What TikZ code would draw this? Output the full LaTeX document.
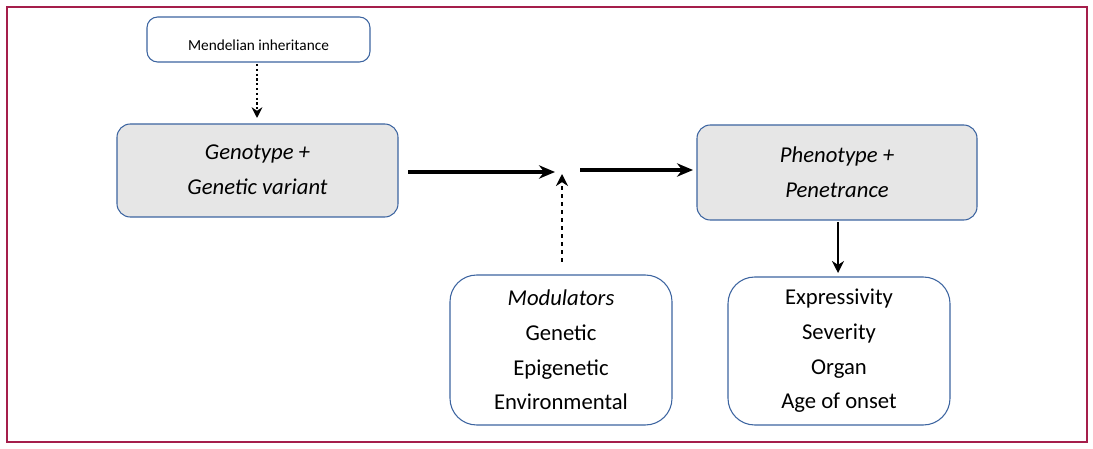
\documentclass[tikz,border=0pt]{standalone}
\usepackage{fontspec}
\setmainfont{Carlito}
\usetikzlibrary{arrows.meta, positioning}
\definecolor{frameRed}{RGB}{165,30,75}
\definecolor{boxBlue}{RGB}{60,100,160}
\definecolor{boxGray}{RGB}{230,230,230}
\tikzset{
  roundbox/.style={draw=boxBlue, rounded corners=8pt, line width=0.8pt},
  bigtext/.style={font=\fontsize{17}{26}\selectfont, align=center},
  flowarrow/.style={-{Stealth[length=12pt,width=10pt]}, line width=2.4pt},
}
\begin{document}
\begin{tikzpicture}[x=0.75pt, y=-0.75pt]
\useasboundingbox (0,0) rectangle (1093,449);
%Outer frame
\draw[frameRed, line width=1pt] (7,7) rectangle (1087,442);
%Boxes
\draw[roundbox] (147,17) rectangle (370,62);
\node (mendel) at (258.5,45) {\fontsize{11.5}{14}\selectfont Mendelian inheritance};
\draw[roundbox, fill=boxGray, rounded corners=10pt] (117,124) rectangle (398,217);
\node[bigtext] (geno) at (257.5,170) {\itshape Genotype +\\\itshape Genetic variant};
\draw[roundbox, fill=boxGray, rounded corners=10pt] (697,125) rectangle (977,220);
\node[bigtext] (pheno) at (837,172) {\itshape Phenotype +\\\itshape Penetrance};
\draw[roundbox, rounded corners=20pt] (450,275) rectangle (672,425);
\node[bigtext] (mod) at (561,350) {\itshape Modulators\\Genetic\\Epigenetic\\Environmental};
\draw[roundbox, rounded corners=20pt] (728,277) rectangle (950,425);
\node[bigtext] (expr) at (839,351) {Expressivity\\Severity\\Organ\\Age of onset};
%Connectors
\coordinate (meet) at (562,174);
\coordinate (dotEnd) at (257,118);
\coordinate (dotStart) at (257,64);
\draw[-{Stealth[length=8pt,width=8pt]}, line width=1.6pt, dotted] (dotStart) -- (dotEnd);
\draw[flowarrow] (408,172) -- (555,172);
\draw[flowarrow] (580,170) -- (693,170);
\draw[-{Stealth[length=9pt,width=9pt]}, line width=1.6pt, dashed] (562,262) -- (meet);
\draw[-{Stealth[length=9pt,width=9pt]}, line width=1.6pt] (838,222) -- (838,273);
\end{tikzpicture}
\end{document}
